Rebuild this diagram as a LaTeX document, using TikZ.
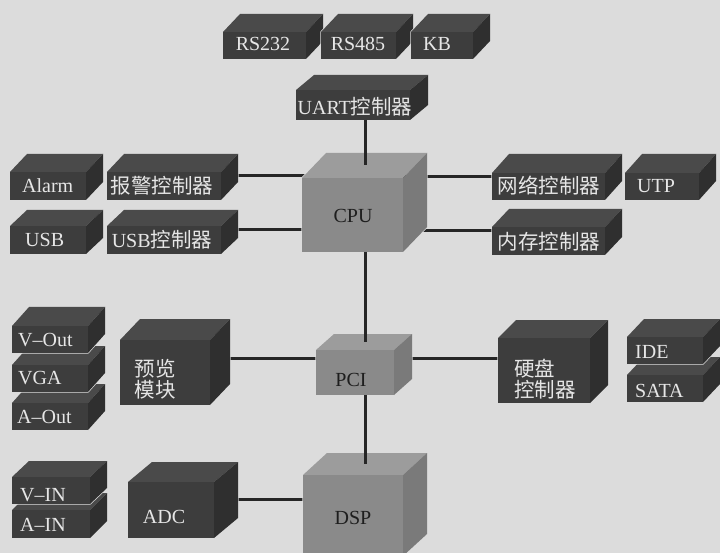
\documentclass[tikz,border=0pt]{standalone}
\usepackage{fontspec}
\setmainfont{Liberation Serif}
\newfontfamily\cjk{Noto Sans CJK SC}
\newcommand\lat{\rmfamily\fontsize{20}{22}\selectfont}
\newcommand\zh{\cjk\fontsize{20.5}{21.5}\selectfont}
\definecolor{paper}{HTML}{DCDCDC}
\definecolor{dkT}{HTML}{4A4A4A}
\definecolor{dkF}{HTML}{3D3D3D}
\definecolor{dkS}{HTML}{2F2F2F}
\definecolor{ltT}{HTML}{9C9C9C}
\definecolor{ltF}{HTML}{8A8A8A}
\definecolor{ltS}{HTML}{7A7A7A}
\definecolor{wireC}{HTML}{262626}
\definecolor{txtW}{HTML}{E6E6E6}
\definecolor{txtK}{HTML}{1E1E1E}
\pgfdeclarelayer{paperlayer}
\pgfdeclarelayer{wirelayer}
\pgfsetlayers{paperlayer,wirelayer,main}
\tikzset{
  dktop/.style={fill=dkT}, dkside/.style={fill=dkS},
  dkfront/.style={fill=dkF, draw=none, inner sep=0pt, outer sep=0pt},
  lttop/.style={fill=ltT}, ltside/.style={fill=ltS},
  ltfront/.style={fill=ltF, draw=none, inner sep=0pt, outer sep=0pt},
  wire/.style={draw=wireC, line width=3pt},
  wl/.style={text=txtW, inner sep=0pt, font=\lat},
  wz/.style={text=txtW, inner sep=0pt, font=\zh},
  kl/.style={text=txtK, inner sep=0pt, font=\lat},
}
% name, x1, y1, x2, y2, dx, dy, style
\newcommand\cube[8]{%
  \pgfmathsetmacro\cubew{#4-#2}%
  \pgfmathsetmacro\cubeh{#5-#3}%
  \path[draw=paper, line width=1.4pt] (#2,#5) -- (#2,#3) -- ++(#6,-#7) -- ++(\cubew,0) -- ++(0,\cubeh) -- (#4,#5) -- cycle;
  \fill[#8top] (#2,#3) -- ++(#6,-#7) -- ++(\cubew,0) -- (#4,#3) -- cycle;
  \fill[#8side] (#4,#3) -- ++(#6,-#7) -- ++(0,\cubeh) -- (#4,#5) -- cycle;
  \node[#8front, minimum width=\cubew pt, minimum height=\cubeh pt, anchor=north west] (#1) at (#2,#3) {};
}
\begin{document}
\begin{tikzpicture}[x=1pt,y=-1pt]
\begin{pgfonlayer}{paperlayer}
  \fill[paper] (0,0) rectangle (720,553);
\end{pgfonlayer}
\useasboundingbox (0,0) rectangle (720,553);

% top row
\cube{rs232}{223}{32}{306}{59}{17}{18}{dk}
\cube{rs485}{321}{32}{396}{59}{17}{18}{dk}
\cube{kb}{411}{32}{473}{59}{17}{18}{dk}
\cube{uart}{296}{90}{410}{120}{18}{15}{dk}

% left upper
\cube{alarm}{10}{172}{86}{200}{17}{18}{dk}
\cube{bj}{107}{172}{221}{200}{17}{18}{dk}
\cube{usb}{10}{226}{86}{254}{17}{16}{dk}
\cube{usbc}{107}{226}{221}{254}{17}{16}{dk}

% cpu
\cube{cpu}{302}{178}{403}{252}{24}{25}{lt}

% right upper
\cube{net}{492}{173}{605}{200}{17}{19}{dk}
\cube{utp}{625}{173}{699}{200}{17}{19}{dk}
\cube{mem}{492}{227}{605}{255}{17}{18}{dk}

% middle
\cube{aout}{12}{403}{88}{430}{17}{19}{dk}
\cube{vga}{12}{365}{88}{392}{17}{19}{dk}
\cube{vout}{12}{326}{88}{353}{17}{19}{dk}
\cube{pv}{120}{340}{210}{405}{20}{21}{dk}
\cube{pci}{316}{350}{394}{395}{18}{16}{lt}
\cube{hd}{498}{338}{590}{403}{18}{18}{dk}
\cube{sata}{627}{375}{703}{402}{17}{18}{dk}
\cube{ide}{627}{337}{703}{364}{17}{18}{dk}

% bottom
\cube{ain}{12}{510}{90}{538}{17}{17}{dk}
\cube{vin}{12}{477}{90}{504}{17}{16}{dk}
\cube{adc}{128}{482}{214}{538}{24}{20}{dk}
\cube{dsp}{303}{475}{403}{556}{24}{22}{lt}

% labels
\node[wl] (rs232-t) at (263,44) {RS232};
\node[wl] (rs485-t) at (358,44) {RS485};
\node[wl, anchor=west] (kb-t) at (423,44) {KB};
\node[wl] (uart-t) at (355,107) {UART{\zh 控制器}};
\node[wl, anchor=west] (alarm-t) at (22,186) {Alarm};
\node[wz] (bj-t) at (162,186) {报警控制器};
\node[wl, anchor=west] (usb-t) at (25,240) {USB};
\node[wl] (usbc-t) at (162,240) {USB{\zh 控制器}};
\node[kl] (cpu-t) at (353,216) {CPU};
\node[wz] (net-t) at (549,186) {网络控制器};
\node[wl, anchor=west] (utp-t) at (637,186) {UTP};
\node[wz] (mem-t) at (549,242) {内存控制器};
\node[wl, anchor=west] (vout-t) at (18,340) {V--Out};
\node[wl, anchor=west] (vga-t) at (18,378) {VGA};
\node[wl, anchor=west] (aout-t) at (17,417) {A--Out};
\node[wz, align=left] (pv-t) at (155,379) {预览\\模块};
\node[kl] (pci-t) at (351,380) {PCI};
\node[wz, align=left, anchor=west] (hd-t) at (514,379) {硬盘\\控制器};
\node[wl, anchor=west] (ide-t) at (635,352) {IDE};
\node[wl, anchor=west] (sata-t) at (635,391) {SATA};
\node[wl, anchor=west] (vin-t) at (20,495) {V--IN};
\node[wl, anchor=west] (ain-t) at (20,525) {A--IN};
\node[wl] (adc-t) at (164,517) {ADC};
\node[kl] (dsp-t) at (353,518) {DSP};

% horizontal connectors (behind the boxes)
\begin{pgfonlayer}{wirelayer}
  \draw[wire] ([yshift=10pt]bj.center) -- ([yshift=10pt]bj.center -| cpu.center);
  \draw[wire] ([yshift=10pt]usbc.center) -- ([yshift=10pt]usbc.center -| cpu.center);
  \draw[wire] ([yshift=10pt]net.center) -- ([yshift=10pt]net.center -| cpu.center);
  \draw[wire] ([yshift=10pt]mem.center) -- ([yshift=10pt]mem.center -| cpu.center);
  \draw[wire] ([yshift=14.5pt]pv.center) -- ([yshift=14.5pt]pv.center -| pci.center);
  \draw[wire] ([yshift=12.5pt]hd.center) -- ([yshift=12.5pt]hd.center -| pci.center);
  \draw[wire] ([yshift=11pt]adc.center) -- ([yshift=11pt]adc.center -| dsp.center);
\end{pgfonlayer}

% vertical connectors (over the top faces)
\draw[wire] ([xshift=12pt]uart.south) -- ([xshift=12.5pt,yshift=12.5pt]cpu.north);
\draw[wire] ([xshift=12.5pt]cpu.south) -- ([xshift=10pt,yshift=8pt]pci.north);
\draw[wire] ([xshift=10pt]pci.south) -- ([xshift=12pt,yshift=11pt]dsp.north);
\end{tikzpicture}
\end{document}
